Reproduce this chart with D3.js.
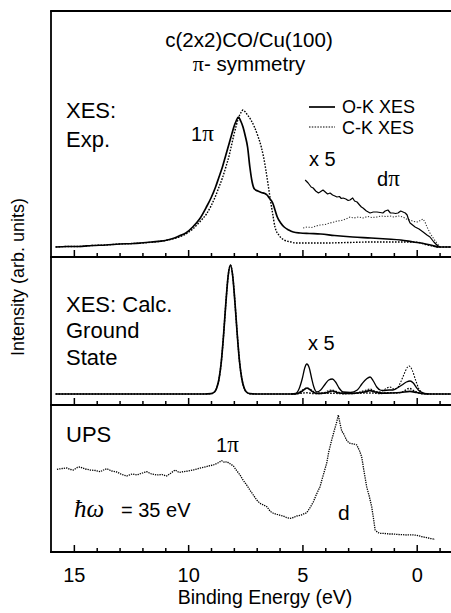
<!DOCTYPE html>
<html>
<head>
<meta charset="utf-8">
<script src="https://cdn.jsdelivr.net/npm/d3@7"></script>
<style>
  html, body { margin: 0; padding: 0; background: #fff; }
  svg { display: block; }
  text { font-family: "Liberation Sans", Arial, Helvetica, sans-serif; fill: #000; }
  .serif { font-family: "Liberation Serif", "Times New Roman", serif; }
</style>
</head>
<body>
<svg id="chart" width="451" height="613"></svg>
<script>
// ---------------- data (binding energy eV, intensity arb. units) ----------------
const tickValues = [15, 10, 5, 0];
const minorTicks = [15, 14, 13, 12, 11, 10, 9, 8, 7, 6, 5, 4, 3, 2, 1, 0, -1];

const expOK = [[15.8,0],[15.3,0.5],[14.8,0.5],[14.2,1.5],[13.6,2],[13.0,3],[12.4,3.5],[12.1,4],[11.6,5],[11.0,6.5],[10.6,9],[10.4,11],[10.1,14],[9.8,20],[9.5,28],[9.2,40],[9.0,49],[8.8,60],[8.65,70],[8.5,80],[8.35,92],[8.2,104],[8.1,112],[8.0,120],[7.9,126],[7.8,130],[7.7,126],[7.6,120],[7.5,111],[7.4,100],[7.3,80],[7.2,65],[7.1,58],[6.95,56],[6.8,54.5],[6.65,53.5],[6.55,52],[6.45,49],[6.3,44],[6.2,37],[6.1,30],[5.95,24],[5.8,20],[5.6,17],[5.4,15],[5.1,14],[4.7,13.5],[4.2,13],[3.6,11.5],[2.8,10],[2.0,9],[1.3,8],[0.7,7],[0.15,5],[-0.3,3.5],[-0.6,2],[-1.0,0],[-1.5,0]];

const expCK = [[15.8,0],[15.3,0.5],[14.8,0.5],[14.2,1.5],[13.6,2],[13.0,3],[12.4,3.5],[12.0,4],[11.5,5],[11.0,6.5],[10.4,10],[10.1,13],[9.8,18],[9.5,25],[9.2,33],[9.0,41],[8.8,51],[8.65,60],[8.5,69],[8.35,80],[8.2,92],[8.1,102],[8.0,112],[7.9,121],[7.8,129],[7.7,134],[7.6,137],[7.5,135],[7.4,132],[7.25,127],[7.1,120],[6.95,111],[6.8,100],[6.7,90],[6.6,77],[6.5,62],[6.4,47],[6.3,33],[6.2,20],[6.0,11],[5.8,7],[5.5,5],[5.3,4],[4.6,4],[4.0,4],[3.0,4.5],[2.0,5],[1.0,5],[0.3,5],[-0.1,4.5],[-0.3,3],[-0.6,1.5],[-1.0,0],[-1.5,0]];

const expOKx5 = [[4.88,67],[4.75,64],[4.62,60],[4.53,59],[4.42,56],[4.3,54],[4.23,55],[4.1,57],[4.0,55],[3.9,53],[3.79,54],[3.68,52],[3.58,51],[3.49,50],[3.38,50.5],[3.3,48.5],[3.22,49],[3.1,48],[3.0,46.5],[2.92,47],[2.8,49],[2.72,46],[2.61,45],[2.5,42],[2.42,40],[2.35,39],[2.2,36],[2.04,34],[1.9,35],[1.74,35],[1.6,34.5],[1.48,34],[1.38,36],[1.26,37],[1.15,34],[1.04,34],[0.92,33.5],[0.82,34],[0.7,36],[0.6,35],[0.5,34],[0.42,32],[0.35,27],[0.29,24],[0.18,22],[0.07,20],[-0.1,18],[-0.28,15],[-0.45,12],[-0.58,10],[-0.75,5],[-0.88,2],[-1.02,0]];

const expCKx5 = [[4.97,19],[4.8,20],[4.6,19.5],[4.4,21],[4.23,22],[4.0,22.5],[3.8,24],[3.6,25],[3.49,26],[3.3,26.5],[3.1,28],[2.92,30],[2.75,29],[2.55,30],[2.35,29],[2.15,30.5],[1.95,29.5],[1.74,30],[1.55,31],[1.35,30.5],[1.17,31],[1.0,30],[0.8,31],[0.6,30],[0.45,28],[0.29,27],[0.12,25.5],[-0.06,25],[-0.18,27],[-0.28,28],[-0.38,24],[-0.45,20],[-0.58,14],[-0.75,8],[-0.88,4],[-1.02,0]];

const calcOK = [[15.8,0],[9.3,0],[9.0,0.3],[8.85,2],[8.75,6],[8.65,15],[8.55,32],[8.45,59],[8.35,91],[8.25,118],[8.15,129],[8.05,118],[7.95,91],[7.85,59],[7.75,32],[7.65,15],[7.55,6],[7.45,2],[7.3,0.3],[7.0,0],[5.4,0],[5.2,0.5],[5.0,3],[4.8,6],[4.6,3],[4.4,0.5],[4.0,1],[3.7,3],[3.4,1],[3.0,0.5],[2.6,1],[2.3,2],[2.05,3.4],[1.8,2],[1.5,0.8],[1.1,1],[0.7,1.5],[0.3,2.6],[0.0,1.5],[-0.3,0.3],[-0.6,0],[-1.5,0]];

const calcCK = [[15.8,0],[9.3,0],[9.0,0.3],[8.85,2],[8.75,6],[8.65,15],[8.55,32],[8.45,59],[8.35,91],[8.25,118],[8.15,129],[8.05,118],[7.95,91],[7.85,59],[7.75,32],[7.65,15],[7.55,6],[7.45,2],[7.3,0.3],[7.0,0],[5.4,0],[5.1,0.6],[4.8,1.2],[4.5,0.4],[3.7,0.8],[3.2,0.3],[2.05,1],[1.6,0.5],[1.2,1.4],[0.9,1],[0.6,2.4],[0.33,5.6],[0.1,3],[-0.1,1],[-0.3,0.2],[-0.6,0],[-1.5,0]];

const calcOKx5 = [[5.5,0],[5.3,0.5],[5.15,5],[5.0,16],[4.9,26],[4.81,30],[4.7,26],[4.6,16],[4.5,7],[4.37,2],[4.2,4],[4.0,10],[3.85,14],[3.69,15],[3.55,12],[3.4,6],[3.22,2],[2.9,1.5],[2.6,4],[2.4,10],[2.2,15],[2.04,17],[1.9,13],[1.75,7],[1.6,4],[1.47,3.5],[1.2,4],[1.04,4],[0.85,6],[0.65,9],[0.45,12],[0.29,13],[0.15,11],[0.0,6],[-0.07,4],[-0.28,1],[-0.5,0]];

const calcCKx5 = [[5.5,0],[5.2,1],[5.0,4],[4.8,6],[4.6,4],[4.4,1],[4.1,1],[3.9,3],[3.7,4],[3.5,2.5],[3.3,1],[2.8,0.5],[2.5,2],[2.2,4],[2.05,5],[1.85,3],[1.65,2],[1.45,4],[1.3,6],[1.17,7],[1.0,5],[0.85,6],[0.7,12],[0.55,20],[0.4,27],[0.33,28],[0.2,24],[0.05,14],[-0.1,5],[-0.28,1],[-0.5,0]];

const ups = [[15.74,82.7],[15.5,83.5],[15.3,84],[15.15,82.5],[15.02,82],[14.85,84.5],[14.73,85],[14.5,83],[14.29,82],[14.05,81.5],[13.85,80.3],[13.7,82],[13.56,83.3],[13.35,81],[13.12,80],[12.9,77.5],[12.69,76],[12.45,78],[12.25,77],[12.0,79],[11.81,80.3],[11.6,78],[11.37,77],[11.15,77.5],[10.94,76],[10.75,79],[10.57,82],[10.4,79.5],[10.21,80.3],[10.0,81],[9.77,82],[9.55,83.5],[9.33,84.7],[9.1,86],[8.9,87],[8.7,89],[8.53,91.3],[8.4,89.5],[8.31,90.3],[8.15,88],[8.02,86],[7.88,81.5],[7.73,77],[7.6,72],[7.44,67],[7.3,62],[7.15,57],[7.0,52],[6.86,48.7],[6.7,47],[6.56,45.3],[6.4,40.5],[6.27,38.7],[6.1,37.5],[5.95,36.5],[5.84,36],[5.7,34.5],[5.54,33.7],[5.4,34.5],[5.25,36],[5.05,37],[4.9,38.5],[4.81,39.3],[4.65,45],[4.52,50.3],[4.4,57],[4.23,65.3],[4.1,76],[3.94,88.7],[3.85,100],[3.72,112],[3.6,122],[3.5,130],[3.43,137],[3.35,128],[3.28,121],[3.21,118.7],[3.05,111],[2.92,108.7],[2.75,108],[2.62,107],[2.5,101],[2.41,95.3],[2.3,80],[2.19,65.3],[2.08,56],[1.97,45.3],[1.9,35],[1.82,22],[1.7,19.5],[1.61,18.7],[1.4,18.5],[1.2,18],[1.02,18],[0.8,17.5],[0.6,17.3],[0.44,17],[0.2,17.2],[0,16.7],[-0.2,15.5],[-0.44,14.3],[-0.6,13.5],[-0.8,12.7]];

// ---------------- layout ----------------
const svg = d3.select("#chart");
const left = 51, right = 451;
const x = d3.scaleLinear().domain([16, -1.5]).range([left, right]);

const panels = [
  { top: 11, bottom: 257, y: d3.scaleLinear().domain([0, 236]).range([247, 11]) },
  { top: 257, bottom: 405, y: d3.scaleLinear().domain([0, 137]).range([394, 257]) },
  { top: 405, bottom: 552, y: d3.scaleLinear().domain([0, 147]).range([552, 405]) }
];

// frame
const frame = svg.append("g").attr("stroke", "#000").attr("stroke-width", 1.8).attr("fill", "none");
frame.append("line").attr("x1", left).attr("x2", left).attr("y1", 11).attr("y2", 552.9);
frame.append("line").attr("x1", left - 0.9).attr("x2", right + 2).attr("y1", 11).attr("y2", 11);
panels.forEach(p => {
  frame.append("line").attr("x1", left - 0.9).attr("x2", right + 2).attr("y1", p.bottom).attr("y2", p.bottom);
});

// ticks (inward, upward from each panel bottom) via d3 axis
panels.forEach(p => {
  const gMinor = svg.append("g").attr("transform", `translate(0,${p.bottom})`)
    .call(d3.axisTop(x).tickValues(minorTicks.filter(v => v % 5 !== 0)).tickSize(4).tickFormat(""));
  const gMajor = svg.append("g").attr("transform", `translate(0,${p.bottom})`)
    .call(d3.axisTop(x).tickValues(tickValues).tickSize(7).tickFormat(""));
  [gMinor, gMajor].forEach(g => {
    g.select(".domain").remove();
    g.selectAll(".tick line").attr("stroke", "#000").attr("stroke-width", 1.5);
  });
});

// tick labels
const gLab = svg.append("g").attr("transform", `translate(0,552)`)
  .call(d3.axisBottom(x).tickValues(tickValues).tickSize(0).tickPadding(16).tickFormat(d3.format("d")));
gLab.select(".domain").remove();
gLab.selectAll("text").attr("font-size", 20).attr("fill", "#000")
  .attr("font-family", '"Liberation Sans", Arial, sans-serif');

// curves
function draw(data, yScale, opts) {
  const line = d3.line().x(d => x(d[0])).y(d => yScale(d[1])).curve(opts.curve || d3.curveLinear);
  svg.append("path").datum(data).attr("d", line)
    .attr("fill", "none").attr("stroke", opts.color || "#000")
    .attr("stroke-width", opts.width || 1.3)
    .attr("stroke-dasharray", opts.dash || null)
    .attr("stroke-linejoin", "round");
}
const y1 = panels[0].y, y2 = panels[1].y, y3 = panels[2].y;
draw(expCK, y1, { dash: "1.6,1.4", width: 1.4, curve: d3.curveMonotoneX });
draw(expOK, y1, { width: 1.7, curve: d3.curveMonotoneX });
draw(expCKx5, y1, { dash: "1.2,1.6", width: 1.1, color: "#333" });
draw(expOKx5, y1, { width: 1.2 });

draw(calcCK, y2, { dash: "1.6,1.4", width: 1.4, curve: d3.curveMonotoneX });
draw(calcOK, y2, { width: 1.7, curve: d3.curveMonotoneX });
draw(calcCKx5, y2, { dash: "1.6,1.4", width: 1.1, curve: d3.curveMonotoneX });
draw(calcOKx5, y2, { width: 1.3, curve: d3.curveMonotoneX });

draw(ups, y3, { dash: "1.3,1", width: 1.3 });

// legend
const lg = svg.append("g");
lg.append("line").attr("x1", 309).attr("x2", 335).attr("y1", 107).attr("y2", 107).attr("stroke", "#000").attr("stroke-width", 1.7);
lg.append("line").attr("x1", 309).attr("x2", 335).attr("y1", 127).attr("y2", 127).attr("stroke", "#000").attr("stroke-width", 1.2).attr("stroke-dasharray", "1.5,1.3");
lg.append("text").attr("x", 342).attr("y", 113).attr("font-size", 18).text("O-K XES");
lg.append("text").attr("x", 342).attr("y", 134).attr("font-size", 18).text("C-K XES");

// text helpers
function label(xp, yp, size, parts, anchor) {
  const t = svg.append("text").attr("x", xp).attr("y", yp).attr("font-size", size).attr("text-anchor", anchor || "start");
  parts.forEach(p => {
    const s = t.append("tspan").text(p.t);
    if (p.serif) s.attr("class", "serif").style("font-family", '"Liberation Serif", "Times New Roman", serif');
    if (p.italic) s.attr("font-style", "italic");
    if (p.size) s.attr("font-size", p.size);
  });
  return t;
}

// title
label(249, 47, 20.5, [{ t: "c(2x2)CO/Cu(100)" }], "middle");
label(249, 71, 20.5, [{ t: "π", serif: true, size: 22 }, { t: "- symmetry" }], "middle");

// panel labels
label(66, 118, 22, [{ t: "XES:" }]);
label(66, 147, 22, [{ t: "Exp." }]);
label(191, 141, 20, [{ t: "1" }, { t: "π", serif: true, size: 23 }]);
label(309, 166, 20, [{ t: "x 5" }]);
label(377, 186, 20, [{ t: "d" }, { t: "π", serif: true, size: 23 }]);

label(66, 312, 22, [{ t: "XES: Calc." }]);
label(66, 338, 22, [{ t: "Ground" }]);
label(66, 365, 22, [{ t: "State" }]);
label(308, 350, 20, [{ t: "x 5" }]);

label(66, 442, 22, [{ t: "UPS" }]);
label(216, 452, 20, [{ t: "1" }, { t: "π", serif: true, size: 23 }]);
label(74, 517, 20, [{ t: "ħω", serif: true, italic: true, size: 25 }]);
label(121, 517, 20, [{ t: "= 35 eV" }]);
label(338, 520, 21, [{ t: "d" }]);

// axis titles
label(265, 604, 19.5, [{ t: "Binding Energy (eV)" }], "middle");
svg.append("text").attr("transform", "translate(24,277) rotate(-90)")
  .attr("text-anchor", "middle").attr("font-size", 18).text("Intensity (arb. units)");
</script>
</body>
</html>
